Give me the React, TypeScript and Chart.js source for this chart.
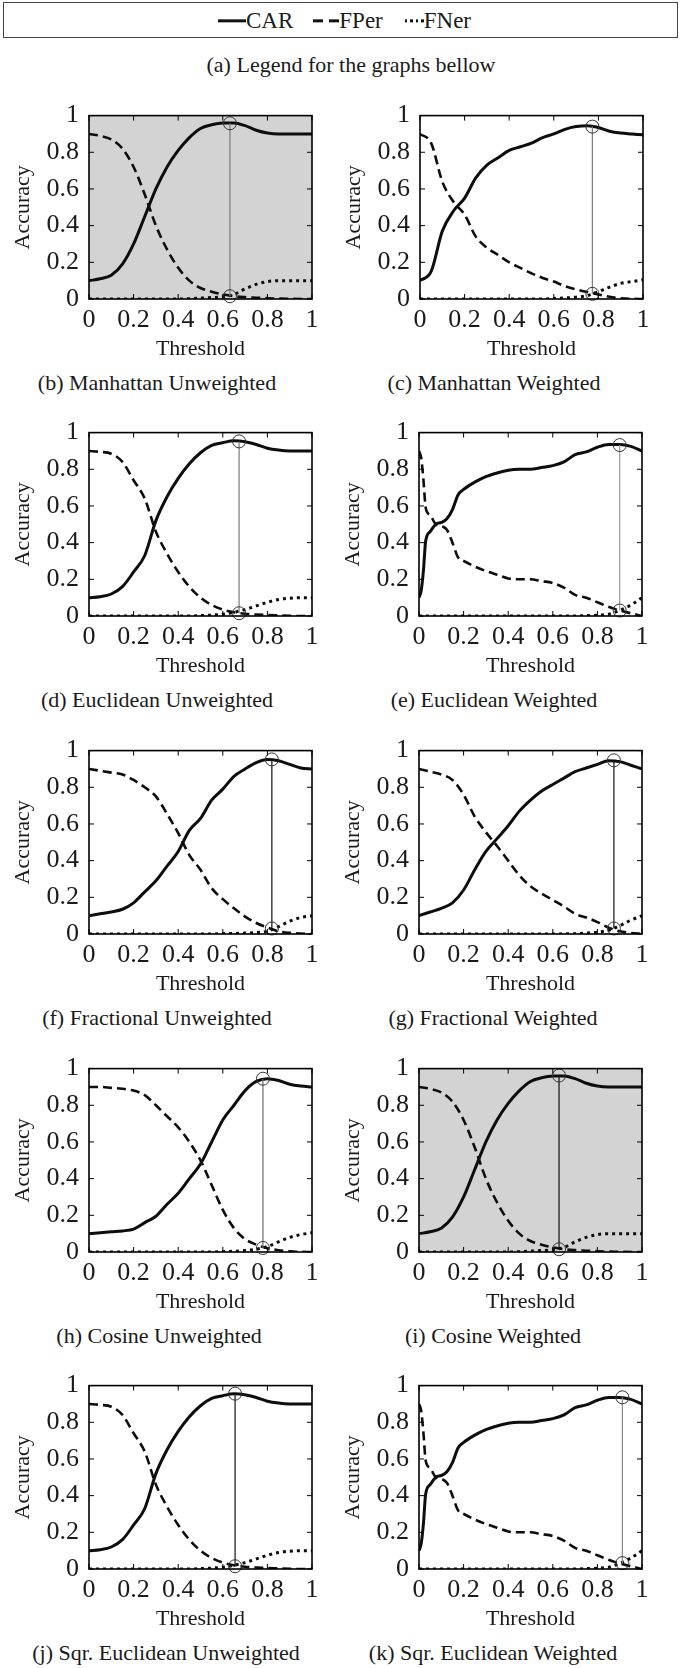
import React, { useEffect, useRef } from 'react';
import { Chart, registerables } from 'chart.js';

Chart.register(...registerables);

const FONT = '"Liberation Serif", "Times New Roman", serif';
const INK = '#1a1a1a';

// ---------- data ----------
const X_STEP = [0, 0.05, 0.1, 0.15, 0.2, 0.25, 0.3, 0.35, 0.4, 0.45, 0.5, 0.55, 0.6, 0.65, 0.7, 0.75, 0.8, 0.85, 0.9, 0.95, 1];
const X_FINE = [0, 0.01, 0.02, 0.03, 0.05, 0.075, 0.1, 0.125, 0.15, 0.175, 0.2, 0.25, 0.3, 0.35, 0.4, 0.45, 0.5, 0.55, 0.6, 0.65, 0.7, 0.75, 0.8, 0.85, 0.9, 0.95, 1];

const TICK_VALUES = [0, 0.2, 0.4, 0.6, 0.8, 1];
const TICK_LABELS = ['0', '0.2', '0.4', '0.6', '0.8', '1'];
const SERIES_LABELS = ['CAR', 'FPer', 'FNer'];

// Manhattan unweighted (also Cosine weighted)
const MAN_UW_CAR = [0.10, 0.11, 0.13, 0.19, 0.30, 0.45, 0.60, 0.72, 0.81, 0.88, 0.93, 0.95, 0.96, 0.96, 0.945, 0.92, 0.905, 0.90, 0.90, 0.90, 0.90];
const MAN_UW_FPER = [0.90, 0.89, 0.87, 0.82, 0.72, 0.57, 0.40, 0.27, 0.17, 0.10, 0.06, 0.04, 0.025, 0.015, 0.01, 0.007, 0.004, 0.002, 0.001, 0, 0];
const MAN_UW_FNER = [0, 0, 0, 0, 0, 0, 0, 0, 0, 0.002, 0.005, 0.008, 0.012, 0.025, 0.055, 0.08, 0.095, 0.1, 0.1, 0.1, 0.1];

// Manhattan weighted
const MAN_W_CAR = [0.10, 0.15, 0.37, 0.48, 0.55, 0.66, 0.73, 0.77, 0.81, 0.83, 0.85, 0.88, 0.90, 0.925, 0.94, 0.945, 0.935, 0.915, 0.905, 0.90, 0.895];
const MAN_W_FPER = [0.90, 0.85, 0.64, 0.53, 0.46, 0.34, 0.28, 0.24, 0.20, 0.17, 0.14, 0.115, 0.095, 0.07, 0.053, 0.038, 0.025, 0.012, 0.004, 0.001, 0];
const MAN_W_FNER = [0, 0, 0, 0, 0, 0, 0, 0, 0, 0, 0, 0, 0.003, 0.006, 0.01, 0.018, 0.04, 0.065, 0.085, 0.095, 0.105];

// Euclidean unweighted (also Sqr. Euclidean unweighted)
const EUC_UW_CAR = [0.10, 0.105, 0.12, 0.16, 0.24, 0.33, 0.52, 0.65, 0.75, 0.83, 0.89, 0.93, 0.945, 0.955, 0.95, 0.935, 0.915, 0.905, 0.90, 0.90, 0.90];
const EUC_UW_FPER = [0.90, 0.895, 0.885, 0.84, 0.74, 0.64, 0.46, 0.34, 0.24, 0.16, 0.10, 0.06, 0.035, 0.02, 0.012, 0.008, 0.005, 0.003, 0.001, 0, 0];
const EUC_UW_FNER = [0, 0, 0, 0, 0, 0, 0, 0, 0, 0, 0.002, 0.005, 0.01, 0.02, 0.035, 0.055, 0.075, 0.09, 0.097, 0.1, 0.1];

// Euclidean weighted (also Sqr. Euclidean weighted), sampled on X_FINE
const EUC_W_CAR = [0.10, 0.14, 0.25, 0.41, 0.46, 0.50, 0.51, 0.53, 0.58, 0.66, 0.69, 0.73, 0.76, 0.78, 0.795, 0.80, 0.80, 0.81, 0.82, 0.84, 0.88, 0.895, 0.92, 0.935, 0.935, 0.925, 0.90];
const EUC_W_FPER = [0.90, 0.86, 0.74, 0.59, 0.55, 0.50, 0.49, 0.47, 0.40, 0.32, 0.30, 0.27, 0.245, 0.225, 0.205, 0.20, 0.20, 0.19, 0.18, 0.155, 0.115, 0.10, 0.075, 0.05, 0.03, 0.015, 0];
const EUC_W_FNER = [0, 0, 0, 0, 0, 0, 0, 0, 0, 0, 0, 0, 0, 0, 0, 0, 0, 0, 0, 0, 0, 0.002, 0.004, 0.01, 0.03, 0.06, 0.1];

// Fractional unweighted
const FRAC_UW_CAR = [0.10, 0.11, 0.12, 0.135, 0.17, 0.23, 0.29, 0.37, 0.45, 0.565, 0.63, 0.73, 0.79, 0.86, 0.90, 0.935, 0.952, 0.945, 0.925, 0.905, 0.90];
const FRAC_UW_FPER = [0.90, 0.89, 0.88, 0.87, 0.84, 0.80, 0.75, 0.655, 0.55, 0.43, 0.35, 0.25, 0.19, 0.14, 0.095, 0.06, 0.035, 0.015, 0.006, 0.002, 0];
const FRAC_UW_FNER = [0, 0, 0, 0, 0, 0, 0, 0, 0, 0, 0, 0, 0.002, 0.003, 0.005, 0.008, 0.015, 0.04, 0.07, 0.09, 0.1];

// Fractional weighted
const FRAC_W_CAR = [0.10, 0.12, 0.14, 0.17, 0.24, 0.35, 0.45, 0.52, 0.59, 0.67, 0.73, 0.78, 0.815, 0.85, 0.885, 0.905, 0.925, 0.945, 0.94, 0.92, 0.90];
const FRAC_W_FPER = [0.90, 0.885, 0.87, 0.84, 0.76, 0.64, 0.555, 0.48, 0.40, 0.32, 0.26, 0.22, 0.185, 0.15, 0.11, 0.09, 0.065, 0.035, 0.015, 0.006, 0];
const FRAC_W_FNER = [0, 0, 0, 0, 0, 0, 0, 0, 0, 0, 0, 0, 0, 0.001, 0.002, 0.005, 0.01, 0.02, 0.045, 0.075, 0.1];

// Cosine unweighted
const COS_UW_CAR = [0.10, 0.105, 0.11, 0.115, 0.125, 0.16, 0.195, 0.26, 0.32, 0.40, 0.48, 0.60, 0.72, 0.80, 0.88, 0.93, 0.945, 0.935, 0.915, 0.905, 0.90];
const COS_UW_FPER = [0.90, 0.90, 0.895, 0.89, 0.88, 0.855, 0.80, 0.74, 0.68, 0.60, 0.50, 0.365, 0.23, 0.13, 0.07, 0.04, 0.02, 0.01, 0.004, 0.001, 0];
const COS_UW_FNER = [0, 0, 0, 0, 0, 0, 0, 0, 0, 0, 0, 0, 0.002, 0.004, 0.008, 0.015, 0.03, 0.055, 0.08, 0.095, 0.105];

// optimum threshold markers, panels (b)..(k)
const OPT_X = [0.632, 0.773, 0.673, 0.90, 0.82, 0.874, 0.78, 0.628, 0.655, 0.912];
const OPT_TOP = [0.958, 0.94, 0.952, 0.932, 0.952, 0.947, 0.945, 0.962, 0.956, 0.936];
const OPT_BOTTOM = [0.015, 0.028, 0.015, 0.03, 0.03, 0.03, 0.022, 0.015, 0.015, 0.032];

const CAPTIONS = [
  '(b) Manhattan Unweighted',
  '(c) Manhattan Weighted',
  '(d) Euclidean Unweighted',
  '(e) Euclidean Weighted',
  '(f) Fractional Unweighted',
  '(g) Fractional Weighted',
  '(h) Cosine Unweighted',
  '(i) Cosine Weighted',
  '(j) Sqr. Euclidean Unweighted',
  '(k) Sqr. Euclidean Weighted',
];

const PANEL_SERIES = [
  { x: X_STEP, car: MAN_UW_CAR, fper: MAN_UW_FPER, fner: MAN_UW_FNER },
  { x: X_STEP, car: MAN_W_CAR, fper: MAN_W_FPER, fner: MAN_W_FNER },
  { x: X_STEP, car: EUC_UW_CAR, fper: EUC_UW_FPER, fner: EUC_UW_FNER },
  { x: X_FINE, car: EUC_W_CAR, fper: EUC_W_FPER, fner: EUC_W_FNER },
  { x: X_STEP, car: FRAC_UW_CAR, fper: FRAC_UW_FPER, fner: FRAC_UW_FNER },
  { x: X_STEP, car: FRAC_W_CAR, fper: FRAC_W_FPER, fner: FRAC_W_FNER },
  { x: X_STEP, car: COS_UW_CAR, fper: COS_UW_FPER, fner: COS_UW_FNER },
  { x: X_STEP, car: MAN_UW_CAR, fper: MAN_UW_FPER, fner: MAN_UW_FNER },
  { x: X_STEP, car: EUC_UW_CAR, fper: EUC_UW_FPER, fner: EUC_UW_FNER },
  { x: X_FINE, car: EUC_W_CAR, fper: EUC_W_FPER, fner: EUC_W_FNER },
];

// ---------- styling / layout ----------
const SHADED = [true, false, false, false, false, false, false, true, false, false];
const MARKER_LINE = ['#7a7a7a', '#7a7a7a', '#7a7a7a', '#9a9a9a', '#111', '#111', '#6a6a6a', '#111', '#111', '#8a8a8a'];
const PLOT_LEFT = [89, 420, 89, 419, 89, 419, 89, 419, 89, 419];
const ROW_TOP = [110, 427, 745, 1063, 1380];
const CAPTION_X = [157, 494, 157, 494, 157, 493, 159, 493, 166, 493];
const PLOT_W = 223;
const PLOT_H = 189;
const Y_AXIS_W = 85;
const X_AXIS_H = 65;
const PAD_TOP = 20;
const PAD_RIGHT = 15;

const zip = (xs: number[], ys: number[]) => xs.map((x, i) => ({ x, y: ys[i] }));

const framePlugin = {
  id: 'matlabFrame',
  beforeDatasetsDraw(chart: any, _args: any, opts: any) {
    const { ctx, chartArea: a } = chart;
    if (opts && opts.shaded) {
      ctx.save();
      ctx.fillStyle = '#d3d3d3';
      ctx.fillRect(a.left, a.top, a.right - a.left, a.bottom - a.top);
      ctx.restore();
    }
  },
  afterDatasetsDraw(chart: any) {
    const { ctx, chartArea: a, scales } = chart;
    ctx.save();
    ctx.strokeStyle = '#000';
    ctx.lineWidth = 1;
    const tl = 5;
    TICK_VALUES.forEach((v) => {
      const px = scales.x.getPixelForValue(v);
      const py = scales.y.getPixelForValue(v);
      ctx.beginPath();
      ctx.moveTo(px, a.bottom); ctx.lineTo(px, a.bottom - tl);
      ctx.moveTo(px, a.top); ctx.lineTo(px, a.top + tl);
      ctx.moveTo(a.left, py); ctx.lineTo(a.left + tl, py);
      ctx.moveTo(a.right, py); ctx.lineTo(a.right - tl, py);
      ctx.stroke();
    });
    ctx.lineWidth = 1.6;
    ctx.strokeRect(a.left, a.top, a.right - a.left, a.bottom - a.top);
    ctx.restore();
  },
};

function Panel({ idx }: { idx: number }) {
  const ref = useRef<HTMLCanvasElement | null>(null);
  useEffect(() => {
    const s = PANEL_SERIES[idx];
    const lineBase = { pointRadius: 0, cubicInterpolationMode: 'monotone', fill: false, borderColor: '#0d0d0d' };
    const chart = new Chart(ref.current as HTMLCanvasElement, {
      type: 'line',
      data: {
        datasets: [
          {
            label: 'optimum',
            data: [{ x: OPT_X[idx], y: OPT_BOTTOM[idx] }, { x: OPT_X[idx], y: OPT_TOP[idx] }],
            borderColor: MARKER_LINE[idx],
            borderWidth: 1.2,
            pointRadius: 6.5,
            pointStyle: 'circle',
            pointBackgroundColor: 'rgba(0,0,0,0)',
            pointBorderColor: '#333',
            pointBorderWidth: 1,
            clip: false,
          },
          { ...lineBase, label: SERIES_LABELS[0], data: zip(s.x, s.car), borderWidth: 3 },
          { ...lineBase, label: SERIES_LABELS[1], data: zip(s.x, s.fper), borderWidth: 2.6, borderDash: [9, 5] },
          { ...lineBase, label: SERIES_LABELS[2], data: zip(s.x, s.fner), borderWidth: 3, borderDash: [3, 4] },
        ] as any,
      },
      options: {
        responsive: false,
        animation: false,
        devicePixelRatio: 1,
        events: [],
        layout: { padding: { top: PAD_TOP, right: PAD_RIGHT, left: 0, bottom: 0 } },
        plugins: {
          legend: { display: false },
          tooltip: { enabled: false },
          matlabFrame: { shaded: SHADED[idx] },
        } as any,
        scales: {
          x: {
            type: 'linear',
            min: 0,
            max: 1,
            afterFit: (sc: any) => { sc.height = X_AXIS_H; },
            afterBuildTicks: (sc: any) => { sc.ticks = TICK_VALUES.map((v) => ({ value: v })); },
            grid: { display: false, drawTicks: false },
            border: { display: false },
            ticks: {
              autoSkip: false,
              maxRotation: 0,
              padding: 6,
              color: INK,
              font: { family: FONT, size: 26 },
              callback: (_v: any, i: number) => TICK_LABELS[i],
            },
            title: { display: true, text: 'Threshold', color: INK, font: { family: FONT, size: 22 }, padding: { top: 0, bottom: 2 } },
          },
          y: {
            type: 'linear',
            min: 0,
            max: 1,
            afterFit: (sc: any) => { sc.width = Y_AXIS_W; },
            afterBuildTicks: (sc: any) => { sc.ticks = TICK_VALUES.map((v) => ({ value: v })); },
            grid: { display: false, drawTicks: false },
            border: { display: false },
            ticks: {
              autoSkip: false,
              padding: 10,
              color: INK,
              font: { family: FONT, size: 26 },
              callback: (_v: any, i: number) => TICK_LABELS[i],
            },
            title: { display: true, text: 'Accuracy', color: INK, font: { family: FONT, size: 22 }, padding: { top: 6, bottom: 0 } },
          },
        } as any,
      },
      plugins: [framePlugin as any],
    } as any);
    let alive = true;
    const redraw = () => { if (alive) chart.update(); };
    const timers = [60, 250, 600].map((ms) => setTimeout(redraw, ms));
    const fonts = (document as any).fonts;
    if (fonts && fonts.load) {
      fonts.load('26px "Liberation Serif"').then(redraw).catch(() => {});
    }
    return () => { alive = false; timers.forEach(clearTimeout); chart.destroy(); };
  }, [idx]);

  const rowTop = ROW_TOP[Math.floor(idx / 2)];
  const w = Y_AXIS_W + PLOT_W + PAD_RIGHT;
  const h = PAD_TOP + PLOT_H + X_AXIS_H;
  return (
    <>
      <canvas
        ref={ref}
        width={w}
        height={h}
        style={{ position: 'absolute', left: PLOT_LEFT[idx] - Y_AXIS_W, top: rowTop - PAD_TOP, width: w, height: h }}
      />
      <div
        style={{
          position: 'absolute',
          left: CAPTION_X[idx],
          top: rowTop + 273,
          transform: 'translate(-50%, -50%)',
          whiteSpace: 'nowrap',
          fontSize: 22,
          lineHeight: 1,
          fontFamily: FONT,
          color: INK,
        }}
      >
        {CAPTIONS[idx]}
      </div>
    </>
  );
}

function Dash({ w, gap, n, h }: { w: number; gap: number; n: number; h: number }) {
  return (
    <span style={{ display: 'inline-flex', gap, alignItems: 'center' }}>
      {Array.from({ length: n }).map((_, i) => (
        <span key={i} style={{ display: 'inline-block', width: w, height: h, background: '#111' }} />
      ))}
    </span>
  );
}

export default function App() {
  return (
    <div style={{ position: 'absolute', left: 0, top: 0, width: 681, height: 1668, background: '#fff', fontFamily: FONT, color: INK }}>
      <div style={{ position: 'absolute', left: 3, top: 2, width: 675, height: 36, border: '1px solid #444', boxSizing: 'border-box' }} />
      <div
        style={{
          position: 'absolute',
          left: 218,
          top: 20.5,
          transform: 'translateY(-50%)',
          display: 'flex',
          alignItems: 'center',
          whiteSpace: 'nowrap',
          fontSize: 23,
          lineHeight: 1.1,
        }}
      >
        <Dash w={28} gap={0} n={1} h={3} />
        <span style={{ marginRight: 20 }}>{SERIES_LABELS[0]}</span>
        <Dash w={10} gap={6} n={2} h={3} />
        <span style={{ marginRight: 22 }}>{SERIES_LABELS[1]}</span>
        <Dash w={2.5} gap={3} n={4} h={3} />
        <span>{SERIES_LABELS[2]}</span>
      </div>
      <div
        style={{
          position: 'absolute',
          left: 351,
          top: 65,
          transform: 'translate(-50%, -50%)',
          whiteSpace: 'nowrap',
          fontSize: 22,
          lineHeight: 1,
        }}
      >
        (a) Legend for the graphs bellow
      </div>
      {CAPTIONS.map((_, i) => (
        <Panel key={i} idx={i} />
      ))}
    </div>
  );
}
